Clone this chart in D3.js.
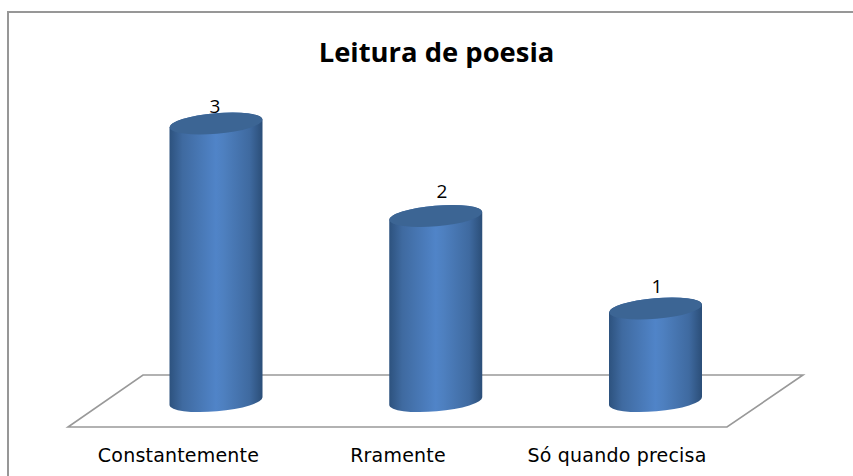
<!DOCTYPE html>
<html><head><meta charset="utf-8"><style>html,body{margin:0;background:#fff}svg{display:block}</style>
<script src="https://cdn.jsdelivr.net/npm/d3@7"></script></head><body><svg id="c" width="853" height="476"></svg>
<script>
const categories=["Constantemente","Rramente","Só quando precisa"];
const values=[3,2,1];
const titleText="Leitura de poesia";
const svg=d3.select("#c");
const font="'Open Sans','Noto Sans',sans-serif";
const x=d3.scalePoint().domain(categories).range([216,655.5]);
const y=d3.scaleLinear().domain([0,3]).range([401,123.5]);
const rx=46.5, ry=10.3, tilt=-5;
const defs=svg.append("defs");
const g=defs.append("linearGradient").attr("id","cyl");
[[0,"#2d527e"],[.14,"#3f6aa0"],[.5,"#5084c8"],[.58,"#4e80c0"],[.86,"#3f6aa0"],[1,"#2b4e78"]].forEach(s=>g.append("stop").attr("offset",s[0]).attr("stop-color",s[1]));
svg.append("path").attr("d","M8,476V12H853").attr("fill","none").attr("stroke","#979797").attr("stroke-width",2);
svg.append("polygon").attr("points","68,427 727,427 803,375 143,375").attr("fill","#fff").attr("stroke","#999").attr("stroke-width",1.6);
svg.append("text").attr("x",436.5).attr("y",62).attr("text-anchor","middle").attr("font-family",font).attr("font-weight",700).attr("font-size",27.4).attr("fill","#000").text(titleText);
const dx=rx, dy=Math.tan(-tilt*Math.PI/180)*rx;
const labelX=[215,442,657], labelY=[113,198,293], catX=[178.5,398,617];
categories.forEach((c,i)=>{
 const cx=x(c), t=y(values[i]), b=y(0);
 const G=svg.append("g");
 G.append("path").attr("fill","url(#cyl)")
  .attr("d",`M${cx-dx},${t+dy}A${rx},${ry} ${tilt} 0 1 ${cx+dx},${t-dy}L${cx+dx},${b-dy}A${rx},${ry} ${tilt} 0 1 ${cx-dx},${b+dy}Z`);
 G.append("ellipse").attr("rx",rx).attr("ry",ry).attr("fill","#3c6594")
  .attr("transform",`translate(${cx},${t}) rotate(${tilt})`);
 svg.append("text").attr("x",labelX[i]).attr("y",labelY[i]).attr("text-anchor","middle").attr("font-family",font).attr("font-size",19).attr("fill","#000").text(values[i]);
 svg.append("text").attr("x",catX[i]).attr("y",462).attr("text-anchor","middle").attr("font-family","'DejaVu Sans',sans-serif").attr("font-size",19).attr("letter-spacing",0.2).attr("fill","#000").text(c);
});
</script></body></html>
